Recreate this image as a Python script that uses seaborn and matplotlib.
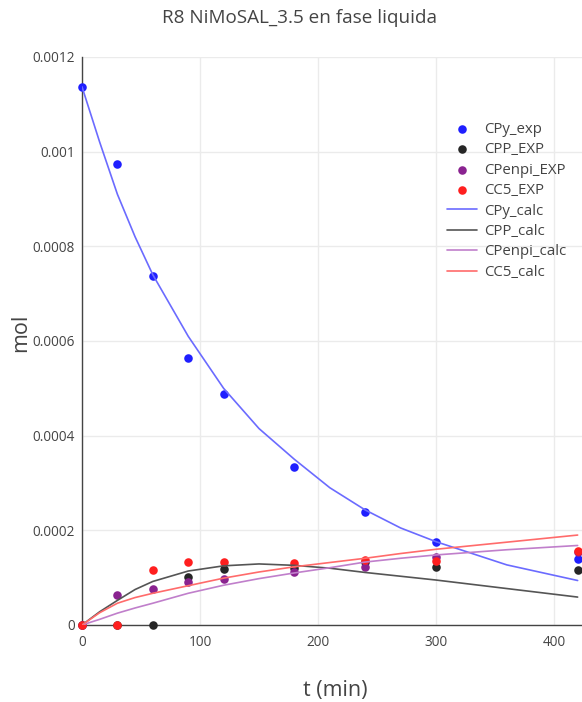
import pandas as pd
import matplotlib
matplotlib.use("Agg")
import matplotlib.pyplot as plt
import seaborn as sns
from matplotlib.ticker import MultipleLocator, FuncFormatter

# experimental points
t_exp = [0, 30, 60, 90, 120, 180, 240, 300, 420]
cpy_exp = [0.001137, 0.000975, 0.000738, 0.000564, 0.000489, 0.000334, 0.000239, 0.000175, 0.000140]
cpp_exp = [0.0, 0.0, 0.0, 0.000102, 0.000119, 0.000120, 0.000133, 0.000123, 0.000116]
cpenpi_exp = [0.0, 0.000064, 0.000076, 0.000090, 0.000097, 0.000111, 0.000122, 0.000143, 0.000154]
cc5_exp = [0.0, 0.0, 0.000116, 0.000134, 0.000134, 0.000131, 0.000137, 0.000136, 0.000156]

# model curves
t_calc = [0, 15, 30, 45, 60, 90, 120, 150, 180, 210, 240, 270, 300, 360, 420]
cpy_calc = [0.001137, 0.00102, 0.00091, 0.00082, 0.00074, 0.00061, 0.000500, 0.000415, 0.00035,
            0.00029, 0.000243, 0.000205, 0.000176, 0.000127, 0.000094]
cpp_calc = [0.0, 0.000028, 0.000052, 0.000075, 0.000092, 0.000114, 0.000125, 0.000129, 0.000126,
            0.000120, 0.000111, 0.000103, 0.000095, 0.000077, 0.000059]
cpenpi_calc = [0.0, 0.000012, 0.000025, 0.000036, 0.000046, 0.000067, 0.000084, 0.000098, 0.000110,
               0.000121, 0.000133, 0.000141, 0.000148, 0.000159, 0.000168]
cc5_calc = [0.0, 0.000026, 0.000046, 0.000058, 0.000067, 0.000083, 0.000099, 0.000112, 0.000123,
            0.000132, 0.000141, 0.000151, 0.000160, 0.000175, 0.000190]

exp_series = [
    ("CPy_exp", cpy_exp, "#1f1fff"),
    ("CPP_EXP", cpp_exp, "#262626"),
    ("CPenpi_EXP", cpenpi_exp, "#8a2390"),
    ("CC5_EXP", cc5_exp, "#ff1f1f"),
]
calc_series = [
    ("CPy_calc", cpy_calc, "#6b6bff"),
    ("CPP_calc", cpp_calc, "#555555"),
    ("CPenpi_calc", cpenpi_calc, "#c07fcb"),
    ("CC5_calc", cc5_calc, "#ff6b6b"),
]

sns.set_style("white")
plt.rcParams['font.family'] = ['Open Sans', 'DejaVu Sans']

fig = plt.figure(figsize=(5.82, 7.02), dpi=100)
ax = fig.add_axes([82 / 582, 1 - 625 / 702, 500 / 582, 568 / 702])

for name, vals, col in exp_series:
    sns.scatterplot(x=t_exp, y=vals, color=col, s=38, linewidth=0, label=name,
                    ax=ax, zorder=3, clip_on=False)
for name, vals, col in calc_series:
    sns.lineplot(x=t_calc, y=vals, color=col, linewidth=1.2, label=name, ax=ax, zorder=4)

ax.set_xlim(0, 423.7)
ax.set_ylim(0, 0.0012)
ax.xaxis.set_major_locator(MultipleLocator(100))
ax.yaxis.set_major_locator(MultipleLocator(0.0002))
ax.yaxis.set_major_formatter(FuncFormatter(lambda v, p: "0" if abs(v) < 1e-12 else f"{v:.4f}".rstrip("0")))

ax.grid(True, color="#ebebeb", linewidth=1)
ax.set_axisbelow(True)
for side in ["top", "right"]:
    ax.spines[side].set_visible(False)
for side in ["left", "bottom"]:
    ax.spines[side].set_color("#444444")
    ax.spines[side].set_linewidth(1)
ax.tick_params(length=0, labelsize=9.8, labelcolor="#444444")
ax.tick_params(axis="y", pad=5)
ax.tick_params(axis="x", pad=7)

ax.set_xlabel("t (min)", fontsize=15.5, color="#444444")
ax.set_ylabel("mol", fontsize=15.5, color="#444444")
ax.xaxis.set_label_coords(0.506, -0.097)
ax.yaxis.set_label_coords(-0.102, 0.515)

fig.text(300 / 582, 1 - 18 / 702, "R8 NiMoSAL_3.5 en fase liquida", ha="center", va="center",
         fontsize=13.6, color="#444444")

ax.legend(loc="upper left", bbox_to_anchor=(441 / 582, 1 - 116 / 702), bbox_transform=fig.transFigure,
          frameon=False, fontsize=10.8, handlelength=2.0, handletextpad=0.45, labelspacing=0.36,
          labelcolor="#444444", borderaxespad=0)

fig.savefig("out.png", dpi=100)
